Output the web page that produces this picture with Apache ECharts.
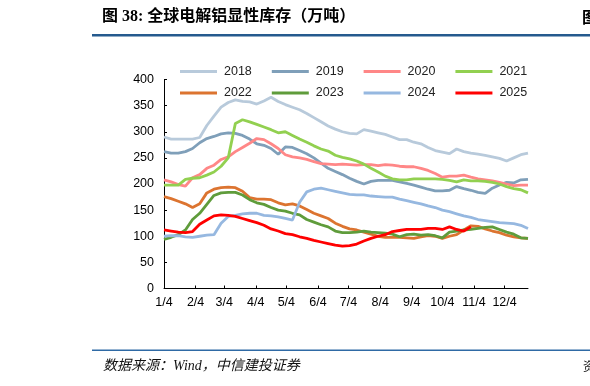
<!DOCTYPE html>
<html><head><meta charset="utf-8">
<script src="https://cdn.jsdelivr.net/npm/echarts@6/dist/echarts.min.js"></script>
<style>html,body{margin:0;padding:0;background:#fff}#c{width:590px;height:386px}</style>
</head><body><div id="c"></div>
<script>
// Weekly observations, 52 weeks starting 1/4 (x = days since 1/4)
const years = ['2018','2019','2020','2021','2022','2023','2024','2025'];
const tickLabels = ['1/4','2/4','3/4','4/4','5/4','6/4','7/4','8/4','9/4','10/4','11/4','12/4'];
const tickDays = [0,31,59,90,120,151,181,212,243,273,304,334];
const weekCount = 52;

const s2018 = [290,286,286,286,286,289,312,330,347,356,361,358,357,353,359,366,358,352,347,342,335,327,319,311,305,300,297,296,304,301,298,295,290,285,285,280,277,270,264,261,258,267,262,259,257,255,252,249,244,250,256,259];
const s2019 = [262,259,259,262,268,279,287,291,296,298,297,293,286,277,274,268,257,271,270,264,258,250,240,230,224,218,211,205,200,205,207,207,207,204,201,198,194,190,187,187,188,195,191,188,184,182,192,198,203,202,208,209];
const s2020 = [208,204,199,196,212,218,230,236,247,252,262,270,278,287,285,277,268,256,252,250,247,243,239,238,237,238,237,236,237,237,235,237,236,234,233,233,230,226,220,213,215,215,217,213,210,208,206,203,200,197,198,198];
const s2021 = [198,198,198,209,211,212,217,223,234,250,316,323,319,314,309,304,298,300,293,286,280,273,267,263,255,251,248,244,238,230,223,215,210,208,208,210,210,210,210,209,207,204,208,206,206,205,203,200,195,191,189,183];
const s2022 = [176,172,167,162,155,162,183,190,193,194,193,186,174,171,171,170,164,160,162,158,151,144,139,134,125,119,114,112,108,104,100,98,98,98,97,96,99,101,100,96,100,103,112,120,119,114,110,107,102,99,97,96];
const s2023 = [94,98,103,112,132,144,161,178,183,184,184,179,170,164,161,155,150,148,144,141,132,127,122,118,110,107,107,108,110,108,107,106,104,99,103,104,102,103,101,97,108,110,112,113,115,117,118,113,108,104,97,96];
const s2024 = [100,101,101,99,98,100,102,103,125,138,140,143,144,144,140,139,137,134,131,165,185,190,192,189,186,183,180,179,179,177,176,175,175,171,168,165,162,158,155,150,147,143,139,136,132,130,128,126,125,124,121,115];
const s2025 = [112,110,108,107,109,123,131,139,141,140,138,134,130,126,121,114,110,105,103,99,96,92,89,86,83,81,82,85,91,96,100,103,109,111,113,113,113,115,115,113,118,113,110,118];

const seriesValues = [s2018,s2019,s2020,s2021,s2022,s2023,s2024,s2025];
const colors = ['#b8cadb','#7f9fb9','#ff8787','#92d050','#dc7430','#5f9c3b','#96b8e0','#ff0000'];

const chart = echarts.init(document.getElementById('c'), null, {renderer:'canvas'});
const latin = '"Liberation Sans", Arial, sans-serif';

const series = years.map((y, k) => ({
  name: y, type: 'line', symbol: 'none', showSymbol: false,
  lineStyle: {width: 2.8, color: colors[k]}, itemStyle: {color: colors[k]},
  data: seriesValues[k].map((v, i) => [i * 7, v]),
  z: 2 + k, animation: false
}));

const legendCommon = {
  itemWidth: 37, itemHeight: 3, itemGap: 20, left: 175,
  icon: 'rect',
  textStyle: {fontFamily: latin, fontSize: 12.5, color: '#222', padding: [0,0,0,2]}
};

chart.setOption({
  animation: false,
  backgroundColor: '#fff',
  grid: {left: 164, right: 62, top: 79.5, bottom: 97.5, containLabel: false},
  legend: [
    Object.assign({}, legendCommon, {top: 60, data: years.slice(0,4)}),
    Object.assign({}, legendCommon, {top: 81.5, data: years.slice(4)})
  ],
  xAxis: {
    type: 'value', min: 0, max: (weekCount - 1) * 7,
    axisLine: {show: true, lineStyle: {color: '#000', width: 1}},
    axisTick: {show: true, inside: true, length: 3, lineStyle: {color: '#000'}, customValues: tickDays},
    axisLabel: {
      customValues: tickDays, margin: 8, color: '#000', fontFamily: latin, fontSize: 12.5,
      formatter: v => tickLabels[tickDays.indexOf(v)] || ''
    },
    splitLine: {show: false}
  },
  yAxis: {
    type: 'value', min: 0, max: 400, interval: 50,
    axisLine: {show: true, lineStyle: {color: '#000', width: 1}},
    axisTick: {show: true, inside: true, length: 3, lineStyle: {color: '#000'}},
    axisLabel: {margin: 10, color: '#000', fontFamily: latin, fontSize: 12.5},
    splitLine: {show: false}
  },
  graphic: [
    {type: 'text', left: 102, top: 9, style: {text: '图 38: 全球电解铝显性库存（万吨）', font: 'bold 16px "Liberation Serif", "Noto Sans CJK SC", serif', fill: '#000'}},
    {type: 'text', left: 582, top: 9, style: {text: '图', font: 'bold 16px "Noto Sans CJK SC", sans-serif', fill: '#000'}},
    {type: 'rect', shape: {x: 92, y: 34, width: 498, height: 2.5}, style: {fill: '#255a8e'}},
    {type: 'rect', shape: {x: 92, y: 349.5, width: 498, height: 1.5}, style: {fill: '#2f6aa5'}},
    {type: 'text', left: 103, top: 359, style: {text: '数据来源：Wind，中信建投证券', font: 'italic 14px "Liberation Serif", "Noto Sans CJK SC", serif', fill: '#111'}},
    {type: 'text', left: 583, top: 360, style: {text: '资', font: '12px "Noto Sans CJK SC", sans-serif', fill: '#111'}}
  ],
  series: series
});
</script></body></html>
